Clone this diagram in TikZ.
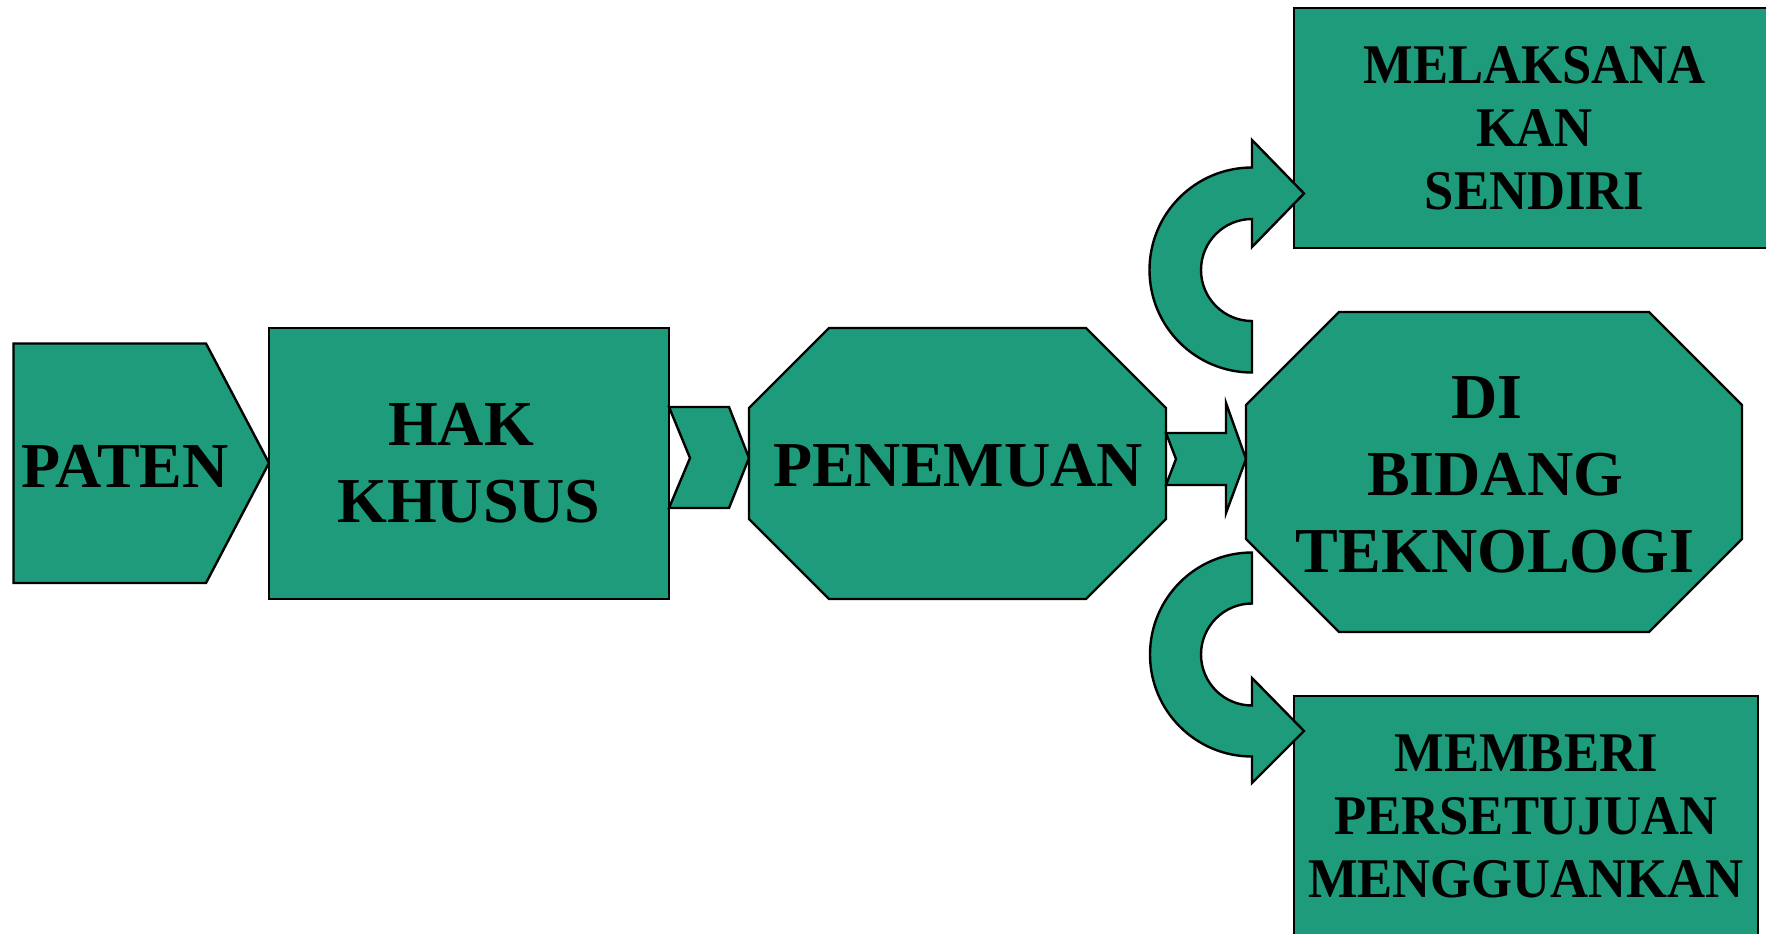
\documentclass[tikz,border=0pt]{standalone}
\usepackage{fontspec}
\setmainfont{Liberation Serif}
\newfontfamily\sempit[FakeStretch=0.94]{Liberation Serif}
\definecolor{patengreen}{RGB}{30,155,122}

\begin{document}
\begin{tikzpicture}[x=0.5pt, y=0.5pt, yscale=-1,
    blok/.style={draw, line width=1.2pt, fill=patengreen, line join=miter},
    kotak/.style={blok, align=center, inner sep=0pt, font=\fontsize{32}{38.4}\selectfont\bfseries},
    kotakkecil/.style={kotak, font=\sempit\fontsize{28}{31.5}\selectfont\bfseries},
    teks/.style={align=center, inner sep=0pt, font=\fontsize{32}{38.4}\selectfont\bfseries}]

  \useasboundingbox (0,0) rectangle (1766,933);
  \clip (0,0) rectangle (1766,933);

  % Paten
  \draw[blok] (13.5,343.5) -- (206,343.5) -- (269,463) -- (206,583) -- (13.5,583) -- cycle;
  \node[teks] (paten) at (125,466) {PATEN};

  % Hak khusus
  \node[kotak, minimum width=200pt, minimum height=135.5pt] (hak) at (469,463.5)
    {HAK\rule{0.25em}{0pt}\\KHUSUS};
  \draw[blok] (669,407) -- (729,407) -- (749,458) -- (729,508) -- (669,508) -- (690,458) -- cycle;

  % Penemuan
  \draw[blok] (829,328) -- (1086,328) -- (1166,408) -- (1166,519) -- (1086,599) -- (829,599)
    -- (749,519) -- (749,408) -- cycle;
  \node[teks] (penemuan) at (958,465.5) {PENEMUAN};
  \draw[blok] (1166,433) -- (1226,433) -- (1226,403) -- (1246,459) -- (1226,513) -- (1226,485)
    -- (1166,485) -- (1176,459) -- cycle;

  % Di bidang teknologi
  \draw[blok] (1339,312) -- (1649,312) -- (1742,405) -- (1742,539) -- (1649,632) -- (1339,632)
    -- (1246,539) -- (1246,405) -- cycle;
  \node[teks] (bidang) at (1495,475) {DI\rule{0.25em}{0pt}\\BIDANG\\TEKNOLOGI};

  % Melaksanakan / memberi persetujuan
  \node[kotakkecil, minimum width=240.5pt, minimum height=120pt] (sendiri) at (1534.5,128)
    {MELAKSANA\\KAN\\SENDIRI};
  \node[kotakkecil, minimum width=232pt, minimum height=120.5pt] (memberi) at (1526,816.5)
    {MEMBERI\\PERSETUJUAN\\MENGGUANKAN};

  % curved arrows
  \draw[blok] (1252,372.5) arc[start angle=90, end angle=270, radius=102.5] -- (1252,140)
    -- (1304,193.5) -- (1252,247) -- (1252,219) arc[start angle=270, end angle=90, radius=51] -- cycle;
  \draw[blok] (1252,552.5) -- (1252,603.5) arc[start angle=270, end angle=90, radius=51]
    -- (1252,678) -- (1304,731) -- (1252,783) -- (1252,756.5)
    arc[start angle=90, end angle=270, radius=102] -- cycle;
\end{tikzpicture}
\end{document}
